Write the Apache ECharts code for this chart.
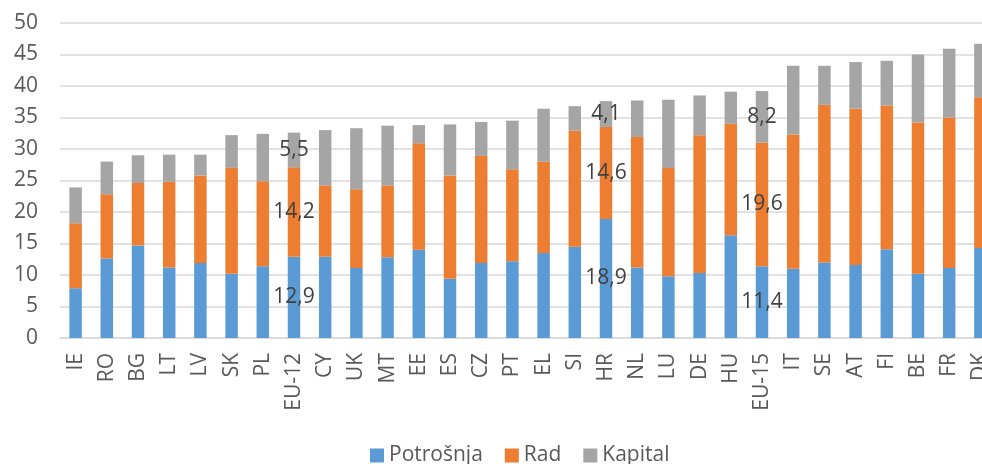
<!DOCTYPE html>
<html>
<head>
<meta charset="utf-8">
<script src="https://cdn.jsdelivr.net/npm/echarts@6/dist/echarts.min.js"></script>
<style>
  html, body { margin: 0; padding: 0; background: #fff; }
  #chart { width: 982px; height: 464px; }
</style>
</head>
<body>
<div id="chart"></div>
<script>
const categories = ['IE', 'RO', 'BG', 'LT', 'LV', 'SK', 'PL', 'EU-12', 'CY', 'UK', 'MT', 'EE', 'ES', 'CZ', 'PT',
  'EL', 'SI', 'HR', 'NL', 'LU', 'DE', 'HU', 'EU-15', 'IT', 'SE', 'AT', 'FI', 'BE', 'FR', 'DK'];
const potrosnja = [7.9, 12.6, 14.7, 11.2, 11.9, 10.2, 11.4, 12.9, 12.9, 11.1, 12.8, 14.0, 9.4, 11.9, 12.2,
  13.5, 14.5, 18.9, 11.2, 9.8, 10.3, 16.3, 11.4, 11.0, 12.0, 11.6, 14.1, 10.2, 11.1, 14.3];
const rad = [10.3, 10.2, 9.9, 13.6, 13.9, 16.8, 13.5, 14.2, 11.3, 12.5, 11.4, 16.9, 16.4, 17.0, 14.6,
  14.5, 18.4, 14.6, 20.7, 17.2, 21.9, 17.7, 19.6, 21.3, 25.0, 24.8, 22.8, 24.0, 23.9, 23.9];
const kapital = [5.7, 5.2, 4.4, 4.3, 3.3, 5.2, 7.5, 5.5, 8.8, 9.7, 9.5, 2.9, 8.1, 5.4, 7.7,
  8.4, 3.9, 4.1, 5.8, 10.8, 6.3, 5.1, 8.2, 10.9, 6.2, 7.4, 7.1, 10.8, 10.9, 8.5];
// only these bars carry value labels
const labelled = ['EU-12', 'HR', 'EU-15'];

const font = 'Open Sans';
const textColor = '#595959';

function withLabels(values) {
  return values.map((v, i) => {
    if (labelled.indexOf(categories[i]) < 0) return v;
    return {
      value: v,
      label: {
        show: true,
        position: 'inside',
        color: '#404040',
        fontFamily: font,
        fontSize: 21,
        formatter: (p) => String(p.value).replace('.', ',')
      }
    };
  });
}

const chart = echarts.init(document.getElementById('chart'));
const option = {
  animation: false,
  textStyle: { fontFamily: font },
  grid: { left: 60, top: 23, width: 936, height: 315, containLabel: false, outerBoundsMode: 'none' },
  legend: {
    left: 365,
    top: 440,
    itemWidth: 14,
    itemHeight: 14,
    itemGap: 22,
    icon: 'rect',
    textStyle: { color: textColor, fontFamily: font, fontSize: 21 },
    data: ['Potrošnja', 'Rad', 'Kapital']
  },
  xAxis: {
    type: 'category',
    data: categories,
    axisLine: { lineStyle: { color: '#d9d9d9', width: 1.5 } },
    axisTick: { show: false },
    axisLabel: {
      rotate: 90,
      interval: 0,
      margin: 15,
      color: textColor,
      fontFamily: font,
      fontSize: 21
    }
  },
  yAxis: {
    type: 'value',
    min: 0,
    max: 50,
    interval: 5,
    axisLine: { show: false },
    axisTick: { show: false },
    splitLine: { lineStyle: { color: '#d9d9d9', width: 1.5 } },
    axisLabel: { margin: 22, color: textColor, fontFamily: font, fontSize: 21 }
  },
  series: [
    { name: 'Potrošnja', type: 'bar', stack: 'total', barWidth: '40%', itemStyle: { color: '#5B9BD5' }, data: withLabels(potrosnja) },
    { name: 'Rad', type: 'bar', stack: 'total', barWidth: '40%', itemStyle: { color: '#ED7D31' }, data: withLabels(rad) },
    { name: 'Kapital', type: 'bar', stack: 'total', barWidth: '40%', itemStyle: { color: '#A5A5A5' }, data: withLabels(kapital) }
  ]
};
chart.setOption(option);
</script>
</body>
</html>
